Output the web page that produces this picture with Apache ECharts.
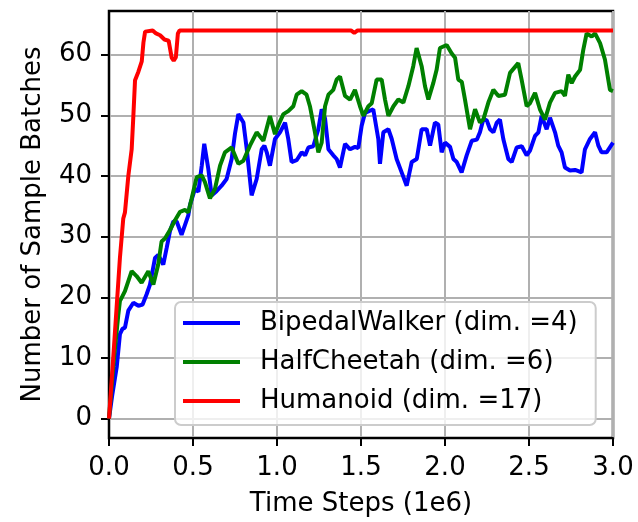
<!DOCTYPE html>
<html>
<head>
<meta charset="utf-8">
<script src="https://cdn.jsdelivr.net/npm/echarts@6/dist/echarts.min.js"></script>
<style>
  html, body { margin: 0; padding: 0; background: #fff; }
  #chart { width: 638px; height: 522px; }
</style>
</head>
<body>
<div id="chart"></div>
<script>
// values (time in 1e6 steps, number of sample batches)
const bipedalWalker = [
  [0, 0], [0.02, 4], [0.046, 8.5], [0.065, 13.9], [0.08, 14.8], [0.095, 15], [0.115, 17.8],
  [0.145, 19.1], [0.175, 18.6], [0.2, 18.8], [0.224, 20.5], [0.244, 22.1], [0.274, 26.5],
  [0.293, 27], [0.323, 25.4], [0.343, 28.1], [0.363, 30.9], [0.383, 32.5], [0.403, 32.5],
  [0.432, 30.3], [0.452, 31.9], [0.472, 33.5], [0.482, 35.2], [0.512, 37.9], [0.532, 37.4],
  [0.552, 41.7], [0.567, 45.3], [0.591, 41.2], [0.611, 36.8], [0.64, 37.5], [0.67, 38.4],
  [0.7, 39.5], [0.73, 42.8], [0.75, 47], [0.77, 50.2], [0.8, 48.8], [0.82, 44.4], [0.849, 36.8],
  [0.879, 39.5], [0.909, 44.4], [0.925, 45], [0.939, 43.9], [0.958, 41.7], [0.988, 46.1],
  [1.018, 47.2], [1.048, 48.8], [1.067, 46.1], [1.087, 42.3], [1.117, 42.6], [1.147, 43.9],
  [1.167, 43.4], [1.187, 44.7], [1.216, 44.9], [1.246, 47.7], [1.266, 51], [1.286, 49.5],
  [1.306, 44.4], [1.335, 43.4], [1.355, 42.8], [1.375, 41.4], [1.405, 45.3], [1.435, 44.4],
  [1.464, 44.8], [1.484, 44.6], [1.504, 48.3], [1.524, 50.4], [1.573, 51], [1.603, 46.1],
  [1.613, 42], [1.633, 47.2], [1.663, 47.7], [1.683, 46.1], [1.712, 42.8], [1.742, 40.6],
  [1.772, 38.4], [1.802, 42.3], [1.832, 42.8], [1.861, 47.7], [1.891, 47.7], [1.911, 45],
  [1.94, 48.8], [1.96, 48.5], [1.98, 43.9], [2.0, 45.5], [2.03, 44.8], [2.05, 42.8],
  [2.07, 42.3], [2.099, 40.6], [2.129, 43.4], [2.159, 45.8], [2.19, 46], [2.208, 47.2],
  [2.228, 49.3], [2.248, 49.2], [2.268, 47.7], [2.288, 47.2], [2.308, 48.8], [2.327, 49.3],
  [2.347, 46.1], [2.377, 42.8], [2.397, 42.3], [2.427, 44.7], [2.457, 44.9], [2.486, 43.4],
  [2.506, 44.2], [2.536, 46.6], [2.556, 47.2], [2.575, 49.9], [2.605, 47.7], [2.625, 49.6],
  [2.655, 47.2], [2.674, 45], [2.694, 43.9], [2.714, 41.4], [2.744, 40.9], [2.774, 41],
  [2.794, 40.8], [2.813, 40.6], [2.833, 44.4], [2.863, 46.1], [2.893, 47.2], [2.913, 45],
  [2.932, 43.9], [2.962, 43.9], [3.0, 45.5]
];
const halfCheetah = [
  [0, 0], [0.03, 10], [0.055, 17], [0.065, 19.4], [0.075, 19.9], [0.095, 21], [0.135, 24.3],
  [0.164, 23.5], [0.194, 22.4], [0.234, 24.3], [0.264, 22.1], [0.293, 25.4], [0.313, 29.2],
  [0.333, 29.7], [0.363, 31.1], [0.393, 32.7], [0.423, 34.1], [0.452, 34.4], [0.472, 34],
  [0.492, 36.3], [0.522, 39.8], [0.552, 40.1], [0.571, 39], [0.601, 36.3], [0.631, 37.9],
  [0.661, 41.7], [0.69, 43.9], [0.73, 44.7], [0.77, 42], [0.8, 42.5], [0.839, 45], [0.879, 47.2],
  [0.919, 45.8], [0.958, 49.9], [0.988, 46.9], [1.01, 48.5], [1.038, 50.2], [1.067, 50.7],
  [1.097, 51.5], [1.117, 53.4], [1.147, 54], [1.176, 53.4], [1.196, 51.5], [1.226, 47.2],
  [1.246, 43.9], [1.266, 45.5], [1.286, 51.5], [1.306, 53.4], [1.335, 54.2], [1.355, 55.9],
  [1.375, 56.4], [1.405, 53.2], [1.435, 52.6], [1.464, 54.2], [1.494, 51.5], [1.514, 49.9],
  [1.544, 51.5], [1.564, 52], [1.593, 55.9], [1.623, 55.9], [1.643, 52.6], [1.663, 49.9],
  [1.693, 51.5], [1.722, 52.6], [1.752, 52.1], [1.782, 54.8], [1.811, 58.1], [1.831, 61.1],
  [1.861, 58.1], [1.881, 54.8], [1.901, 52.6], [1.93, 55.3], [1.95, 57.5], [1.97, 61.1],
  [2.01, 61.6], [2.04, 60.2], [2.06, 59.5], [2.079, 55.9], [2.1, 55.5], [2.119, 52.6],
  [2.149, 47.7], [2.179, 51], [2.208, 48.8], [2.228, 49.3], [2.258, 52.1], [2.288, 54.2],
  [2.318, 53.2], [2.357, 53.4], [2.387, 57], [2.436, 58.6], [2.456, 55.9], [2.486, 51.5],
  [2.506, 52], [2.536, 53.7], [2.565, 51], [2.595, 49.3], [2.625, 52.1], [2.655, 53.7],
  [2.694, 54], [2.714, 53.2], [2.734, 56.7], [2.754, 55.3], [2.774, 56.4], [2.804, 57.5],
  [2.823, 60.8], [2.843, 63.5], [2.873, 63], [2.893, 63.5], [2.923, 61.9], [2.952, 59.2],
  [2.982, 54.2], [3.0, 54]
];
const humanoid = [
  [0, 0], [0.03, 12], [0.065, 26.5], [0.085, 33], [0.095, 34], [0.115, 40], [0.135, 44.4],
  [0.145, 49.9], [0.155, 55.8], [0.175, 57.2], [0.195, 58.9], [0.205, 62], [0.215, 63.8],
  [0.26, 64], [0.28, 63.5], [0.304, 63.2], [0.33, 62.5], [0.355, 62.3], [0.373, 59.5],
  [0.385, 59], [0.398, 59.6], [0.41, 63.5], [0.42, 64], [1.44, 64], [1.46, 63.6], [1.48, 64],
  [3.0, 64]
];
const seriesNames = [
  'BipedalWalker (dim. =4)',
  'HalfCheetah (dim. =6)',
  'Humanoid (dim. =17)'
];
const seriesColors = ['#0000ff', '#008000', '#ff0000'];
const yTicks = [0, 10, 20, 30, 40, 50, 60];

const font = 'DejaVu Sans';
const chart = echarts.init(document.getElementById('chart'));

const axisCommon = {
  axisLine: { show: true, onZero: false, lineStyle: { color: '#000', width: 2 } },
  axisTick: { show: true, inside: false, length: 8, lineStyle: { color: '#000', width: 2 } },
  splitLine: { show: true, lineStyle: { color: '#b0b0b0', width: 2 } },
  nameTextStyle: { fontFamily: font, fontSize: 26, color: '#000' }
};

chart.setOption({
  animation: false,
  backgroundColor: '#fff',
  grid: {
    left: 109, right: 25, top: 11, bottom: 81,
    show: true, borderColor: '#000', borderWidth: 2.5
  },
  legend: {
    orient: 'vertical',
    left: 175,
    top: 302,
    padding: [8, 18, 11, 8],
    itemWidth: 57,
    itemHeight: 4,
    itemGap: 13,
    icon: 'rect',
    backgroundColor: 'rgba(255,255,255,0.8)',
    borderColor: '#cccccc',
    borderWidth: 2,
    borderRadius: 6,
    textStyle: { fontFamily: font, fontSize: 26, color: '#000', padding: [0, 0, 0, 15] },
    data: seriesNames
  },
  xAxis: Object.assign({}, axisCommon, {
    type: 'value',
    min: 0,
    max: 3,
    interval: 0.5,
    name: 'Time Steps (1e6)',
    nameLocation: 'middle',
    nameGap: 53,
    axisLabel: {
      fontFamily: font, fontSize: 26, color: '#000', margin: 17,
      formatter: (v) => v.toFixed(1)
    }
  }),
  yAxis: Object.assign({}, axisCommon, {
    type: 'value',
    min: -3.2,
    max: 67.2,
    name: 'Number of Sample Batches',
    nameLocation: 'middle',
    nameGap: 63,
    axisTick: Object.assign({}, axisCommon.axisTick, { customValues: yTicks }),
    axisLabel: {
      fontFamily: font, fontSize: 26, color: '#000', margin: 17,
      customValues: yTicks,
      formatter: (v) => String(Math.round(v))
    }
  }),
  series: [bipedalWalker, halfCheetah, humanoid].map((d, i) => ({
    name: seriesNames[i],
    type: 'line',
    data: d,
    showSymbol: false,
    symbol: 'none',
    lineStyle: { color: seriesColors[i], width: 4 },
    itemStyle: { color: seriesColors[i] },
    z: 3 + i
  }))
});
</script>
</body>
</html>
